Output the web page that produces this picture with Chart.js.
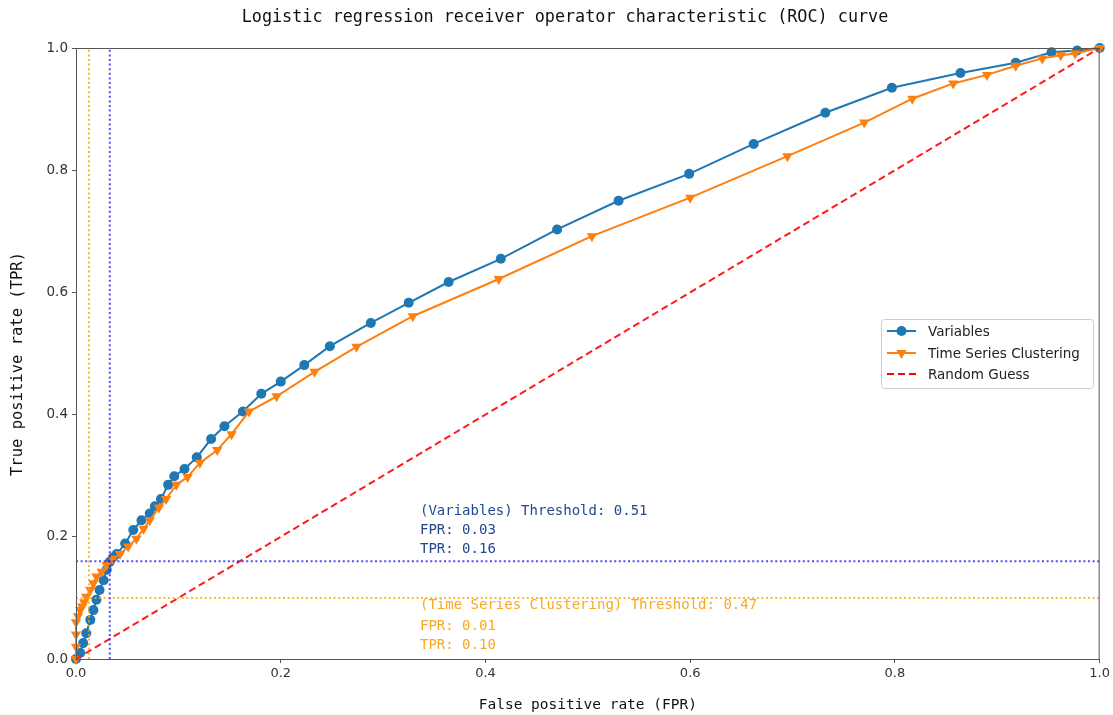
<!DOCTYPE html>
<html><head><meta charset="utf-8">
<script src="https://cdn.jsdelivr.net/npm/chart.js@4"></script>
<style>html,body{margin:0;padding:0;background:#fff}#wrap{width:1113px;height:715px}</style>
</head><body><div id="wrap"><canvas id="c" width="1113" height="715"></canvas></div>
<script>
const chartTitle = 'Logistic regression receiver operator characteristic (ROC) curve';
const xAxisLabel = 'False positive rate (FPR)';
const yAxisLabel = 'True positive rate (TPR)';
const xTickValues = [0, 0.2, 0.4, 0.6, 0.8, 1.0];
const yTickValues = [0, 0.2, 0.4, 0.6, 0.8, 1.0];
const seriesNames = ['Variables', 'Time Series Clustering', 'Random Guess'];

const variablesFpr = [0, 0.004, 0.007, 0.010, 0.014, 0.017, 0.020, 0.023, 0.027, 0.030, 0.033, 0.036, 0.040, 0.048, 0.056, 0.064, 0.072, 0.077, 0.083, 0.090, 0.096, 0.106, 0.118, 0.132, 0.145, 0.163, 0.181, 0.200, 0.223, 0.248, 0.288, 0.325, 0.364, 0.415, 0.470, 0.530, 0.599, 0.662, 0.732, 0.797, 0.864, 0.918, 0.953, 0.978, 1.0];
const variablesTpr = [0, 0.010, 0.026, 0.042, 0.064, 0.080, 0.097, 0.113, 0.129, 0.146, 0.159, 0.166, 0.172, 0.189, 0.211, 0.227, 0.238, 0.250, 0.262, 0.285, 0.299, 0.311, 0.330, 0.360, 0.381, 0.405, 0.434, 0.454, 0.481, 0.512, 0.550, 0.583, 0.617, 0.655, 0.703, 0.750, 0.794, 0.843, 0.894, 0.935, 0.959, 0.976, 0.993, 0.996, 1.0];

const clusteringFpr = [0, 0.000, 0.000, 0.000, 0.002, 0.004, 0.006, 0.008, 0.010, 0.014, 0.017, 0.020, 0.025, 0.030, 0.036, 0.043, 0.051, 0.059, 0.066, 0.072, 0.081, 0.088, 0.098, 0.109, 0.121, 0.138, 0.152, 0.169, 0.196, 0.233, 0.274, 0.329, 0.413, 0.504, 0.600, 0.695, 0.770, 0.817, 0.857, 0.890, 0.918, 0.944, 0.962, 0.976, 1.0];
const clusteringTpr = [0, 0.020, 0.040, 0.060, 0.070, 0.080, 0.086, 0.093, 0.102, 0.113, 0.124, 0.135, 0.143, 0.154, 0.164, 0.172, 0.184, 0.197, 0.213, 0.227, 0.248, 0.262, 0.285, 0.298, 0.321, 0.342, 0.368, 0.405, 0.430, 0.470, 0.511, 0.561, 0.622, 0.692, 0.755, 0.823, 0.878, 0.917, 0.942, 0.956, 0.971, 0.983, 0.988, 0.991, 1.0];

const guessFpr = [0, 1];
const guessTpr = [0, 1];

// optimal thresholds: [Variables, Time Series Clustering]
const thresholdNames = ['Variables', 'Time Series Clustering'];
const thresholdValues = [0.51, 0.47];
const thresholdFpr = [0.033, 0.0127];
const thresholdTpr = [0.160, 0.0998];

const toPts = (xs, ys) => xs.map((x, i) => ({x: x, y: ys[i]}));

const blue = '#1f77b4', orange = '#ff7f0e';
const thrLineColors = ['rgba(30,30,255,0.78)', 'rgba(255,165,0,0.8)'];
const thrTextColors = ['#24478f', '#f7a823'];

const thresholdDatasets = [];
thresholdValues.forEach((t, i) => {
  thresholdDatasets.push({
    label: '_v' + i, data: [{x: thresholdFpr[i], y: 0}, {x: thresholdFpr[i], y: 1}],
    showLine: true, borderColor: thrLineColors[i], borderWidth: 2, borderDash: [2, 2.6],
    pointRadius: 0, order: -1, clip: false
  });
  thresholdDatasets.push({
    label: '_h' + i, data: [{x: 0, y: thresholdTpr[i]}, {x: 1, y: thresholdTpr[i]}],
    showLine: true, borderColor: thrLineColors[i], borderWidth: 2, borderDash: [2, 2.6],
    pointRadius: 0, order: -1, clip: false
  });
});

const monoFont = "'DejaVu Sans Mono', 'Liberation Mono', monospace";
const sansFont = "'DejaVu Sans', sans-serif";

const framePlugin = {
  id: 'frame',
  afterDatasetsDraw(chart) {
    const {ctx, chartArea: a, scales} = chart;
    ctx.save();
    // spines
    ctx.strokeStyle = '#555'; ctx.lineWidth = 1;
    ctx.strokeRect(a.left + 0.5, a.top + 0.5, a.right - a.left - 1, a.bottom - a.top);
    // threshold annotations
    ctx.font = '14px ' + monoFont;
    ctx.textBaseline = 'middle'; ctx.textAlign = 'left';
    const tx = scales.x.getPixelForValue(0.336);
    const rowsY = [[0.242, 0.210, 0.180], [0.087, 0.054, 0.023]];
    thresholdValues.forEach((t, i) => {
      const lines = ['(' + thresholdNames[i] + ') Threshold: ' + t.toFixed(2),
                     'FPR: ' + thresholdFpr[i].toFixed(2),
                     'TPR: ' + thresholdTpr[i].toFixed(2)];
      ctx.fillStyle = thrTextColors[i];
      lines.forEach((s, k) => ctx.fillText(s, tx, scales.y.getPixelForValue(rowsY[i][k])));
    });
    // title
    ctx.fillStyle = '#111';
    ctx.font = '16.8px ' + monoFont;
    ctx.textAlign = 'center';
    ctx.fillText(chartTitle, 565, 18);
    // y axis title
    ctx.save();
    ctx.translate(18, 364);
    ctx.rotate(-Math.PI / 2);
    ctx.font = '15.5px ' + monoFont;
    ctx.fillText(yAxisLabel, 0, 0);
    ctx.restore();
    // legend
    const bx = 881, by = 319, bw = 212, bh = 69;
    ctx.fillStyle = 'rgba(255,255,255,0.9)';
    ctx.strokeStyle = '#cccccc';
    ctx.beginPath();
    ctx.roundRect(bx + 0.5, by + 0.5, bw, bh, 3);
    ctx.fill(); ctx.stroke();
    const rows = [331, 353, 374];
    const styles = [
      {c: blue, dash: [], pt: 'circle'},
      {c: orange, dash: [], pt: 'tri'},
      {c: '#ff0000', dash: [7, 4], pt: null}
    ];
    ctx.font = '13.5px ' + sansFont;
    ctx.textAlign = 'left';
    seriesNames.forEach((name, i) => {
      const y = rows[i], st = styles[i];
      ctx.strokeStyle = st.c; ctx.lineWidth = 2; ctx.setLineDash(st.dash);
      ctx.beginPath(); ctx.moveTo(887, y); ctx.lineTo(916, y); ctx.stroke();
      ctx.setLineDash([]);
      ctx.fillStyle = st.c;
      if (st.pt === 'circle') { ctx.beginPath(); ctx.arc(901.5, y, 5, 0, Math.PI * 2); ctx.fill(); }
      if (st.pt === 'tri') {
        ctx.beginPath(); ctx.moveTo(901.5, y + 6); ctx.lineTo(901.5 - 5.2, y - 3); ctx.lineTo(901.5 + 5.2, y - 3); ctx.closePath(); ctx.fill();
      }
      ctx.fillStyle = '#222';
      ctx.fillText(name, 928, y + 1);
    });
    ctx.restore();
  }
};

new Chart(document.getElementById('c'), {
  type: 'scatter',
  data: {
    datasets: [
      {label: seriesNames[0], data: toPts(variablesFpr, variablesTpr), showLine: true,
       borderColor: blue, backgroundColor: blue, borderWidth: 2, pointRadius: 5, pointBorderWidth: 0,
       pointStyle: 'circle', order: 2, clip: false},
      {label: seriesNames[1], data: toPts(clusteringFpr, clusteringTpr), showLine: true,
       borderColor: orange, backgroundColor: orange, borderWidth: 2, pointRadius: 6, pointBorderWidth: 0,
       pointStyle: 'triangle', rotation: 180, order: 1, clip: false},
      {label: seriesNames[2], data: toPts(guessFpr, guessTpr), showLine: true,
       borderColor: '#ff1a1a', borderWidth: 2, borderDash: [7, 4], pointRadius: 0, order: 0, clip: false},
      ...thresholdDatasets
    ]
  },
  options: {
    responsive: false, animation: false, devicePixelRatio: 1,
    layout: {padding: {top: 48, right: 12, left: 0, bottom: 0}},
    plugins: {legend: {display: false}, title: {display: false}, tooltip: {enabled: false}},
    scales: {
      x: {
        type: 'linear', min: 0, max: 1,
        afterBuildTicks: s => { s.ticks = xTickValues.map(v => ({value: v})); },
        afterFit: s => { s.height = 56; },
        ticks: {callback: v => Number(v).toFixed(1), font: {family: sansFont, size: 13}, color: '#333', padding: 3, maxRotation: 0},
        grid: {display: true, drawOnChartArea: false, drawTicks: true, tickLength: 4, color: '#555'},
        border: {display: true, color: '#555', width: 1},
        title: {display: true, text: xAxisLabel, font: {family: monoFont, size: 14.5}, color: '#111', padding: {top: 4, bottom: 1}}
      },
      y: {
        type: 'linear', min: 0, max: 1,
        afterBuildTicks: s => { s.ticks = yTickValues.map(v => ({value: v})); },
        afterFit: s => { s.width = 76; },
        ticks: {callback: v => Number(v).toFixed(1), font: {family: sansFont, size: 13.5}, color: '#333', padding: 4},
        grid: {display: true, drawOnChartArea: false, drawTicks: true, tickLength: 4, color: '#555'},
        border: {display: true, color: '#555', width: 1},
        title: {display: false}
      }
    }
  },
  plugins: [framePlugin]
});
</script></body></html>
